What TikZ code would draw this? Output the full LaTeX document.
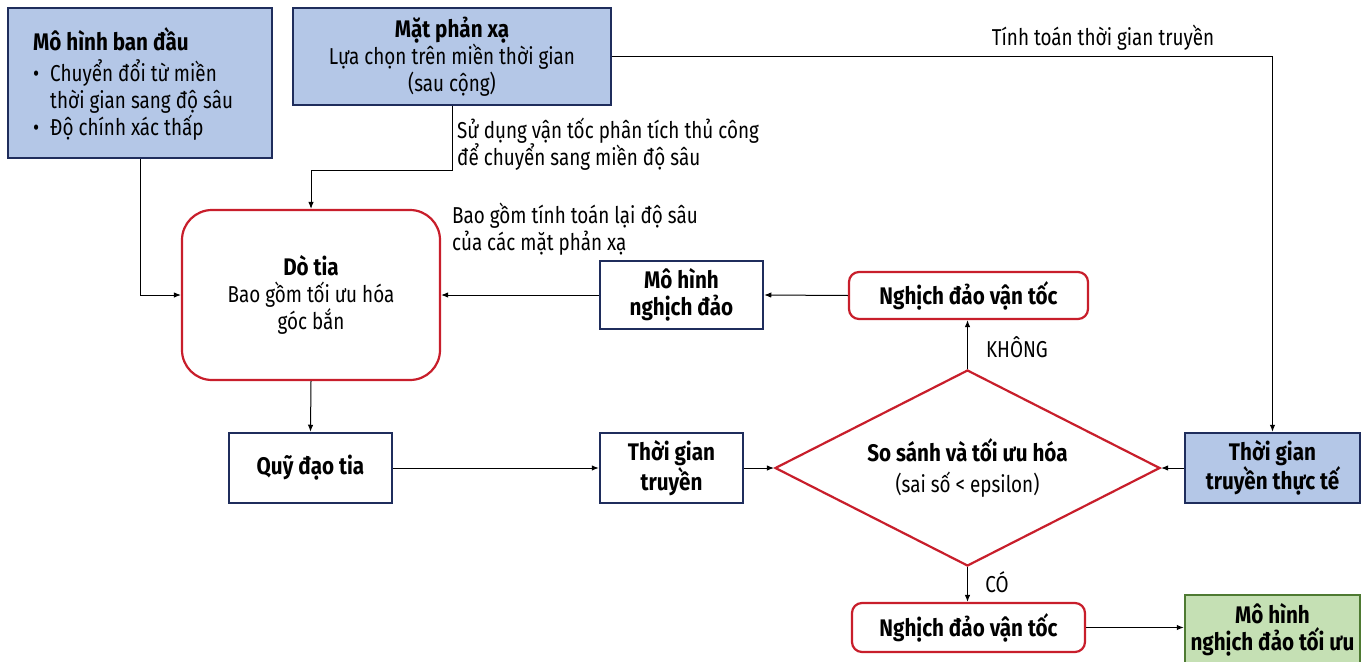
\documentclass[tikz,border=0pt]{standalone}
\usepackage{fontspec}
\setmainfont{Fira Sans}[FakeStretch=0.82,BoldFeatures={FakeStretch=0.86}]
\usetikzlibrary{arrows.meta,shapes.geometric}
\definecolor{bluefill}{HTML}{B4C7E7}
\definecolor{navy}{HTML}{1F2D5C}
\definecolor{redb}{HTML}{C81E2B}
\definecolor{greenfill}{HTML}{C5E0B4}
\definecolor{greenb}{HTML}{4E7A32}
\newcommand{\bt}[1]{{\fontsize{24}{28}\selectfont\bfseries #1}}
\begin{document}
\begin{tikzpicture}[x=1pt,y=-1pt,
  txt/.style={font=\fontsize{23}{27}\selectfont},
  boxbase/.style={txt,align=center,inner sep=0pt,line width=2.5pt},
  bluebox/.style={boxbase,draw=navy,fill=bluefill},
  whitebox/.style={boxbase,draw=navy,fill=white},
  redround/.style={boxbase,draw=redb,line width=2.2pt,fill=white},
  greenbox/.style={boxbase,draw=greenb,fill=greenfill},
  lbl/.style={txt,align=left,inner sep=0pt},
  arr/.style={-{Latex[length=7pt,width=5.5pt]},line width=1pt}
]
\useasboundingbox (0,0) rectangle (1367,661);

\node[bluebox,minimum width=264,minimum height=150] (b1) at (140,83) {};
\node[lbl,anchor=west] (b1t) at (33,84)
  {\bt{Mô hình ban đầu}\\[4pt]
   \makebox[17pt][l]{•}Chuyển đổi từ miền\\
   \makebox[17pt][l]{}thời gian sang độ sâu\\
   \makebox[17pt][l]{•}Độ chính xác thấp};

\node[bluebox,minimum width=318,minimum height=97] (b2) at (452,56.5)
  {\bt{Mặt phản xạ}\\Lựa chọn trên miền thời gian\\(sau cộng)};

\node[redround,rounded corners=30pt,minimum width=258,minimum height=170] (ray) at (311,295)
  {\bt{Dò tia}\\Bao gồm tối ưu hóa\\góc bắn};

\node[whitebox,minimum width=163,minimum height=70] (traj) at (310.5,468) {\bt{Quỹ đạo tia}};
\node[whitebox,minimum width=143,minimum height=70] (tt) at (671.5,468) {\bt{Thời gian}\\\bt{truyền}};
\node[whitebox,minimum width=163,minimum height=68] (inv) at (681.5,295) {\bt{Mô hình}\\\bt{nghịch đảo}};
\node[redround,rounded corners=10pt,minimum width=239,minimum height=47] (nv1) at (968.5,295.5) {\bt{Nghịch đảo vận tốc}};
\node[diamond,draw=redb,line width=2.2pt,fill=white,minimum width=385,minimum height=196,aspect=1.96,inner sep=0pt,align=center,txt] (dia) at (967.5,468)
  {\bt{So sánh và tối ưu hóa}\\[4pt]{\fontsize{23}{26}\selectfont(sai số < epsilon)}};
\node[bluebox,minimum width=175,minimum height=70] (real) at (1272.5,468) {\bt{Thời gian}\\\bt{truyền thực tế}};
\node[redround,rounded corners=10pt,minimum width=233,minimum height=49] (nv2) at (968.5,627.5) {\bt{Nghịch đảo vận tốc}};
\node[greenbox,minimum width=175,minimum height=70] (opt) at (1272.5,630) {\raisebox{2pt}{\bt{Mô hình}}\\\raisebox{2pt}{\bt{nghịch đảo tối ưu}}};

\coordinate (bend) at (0,170);

\draw[arr] (b1.south) -- (b1.south |- ray.west) -- (ray.west);
\draw[arr] (b2.south) -- (b2.south |- bend) -| (ray.north);
\draw[arr] (b2.east) -| (real.north);
\draw[arr] (ray.south) -- (traj.north);
\draw[arr] (traj.east) -- (tt.west);
\draw[arr] (tt.east) -- (dia.west);
\draw[arr] (real.west) -- (dia.east);
\draw[arr] (dia.north) -- (dia.north |- nv1.south);
\draw[arr] (nv1.west) -- (inv.east);
\draw[arr] (inv.west) -- (ray.east);
\draw[arr] (dia.south) -- (dia.south |- nv2.north);
\draw[arr] (nv2.east) -- (nv2.east -| opt.west);

\node[lbl] (l1) at (1103,38) {Tính toán thời gian truyền};
\node[lbl,anchor=west] (l2) at (457,144) {Sử dụng vận tốc phân tích thủ công\\để chuyển sang miền độ sâu};
\node[lbl,anchor=west] (l3) at (452,229) {Bao gồm tính toán lại độ sâu\\của các mặt phản xạ};
\node[lbl] (l4) at (1017,347) {KHÔNG};
\node[lbl] (l5) at (997,582) {CÓ};
\end{tikzpicture}
\end{document}
